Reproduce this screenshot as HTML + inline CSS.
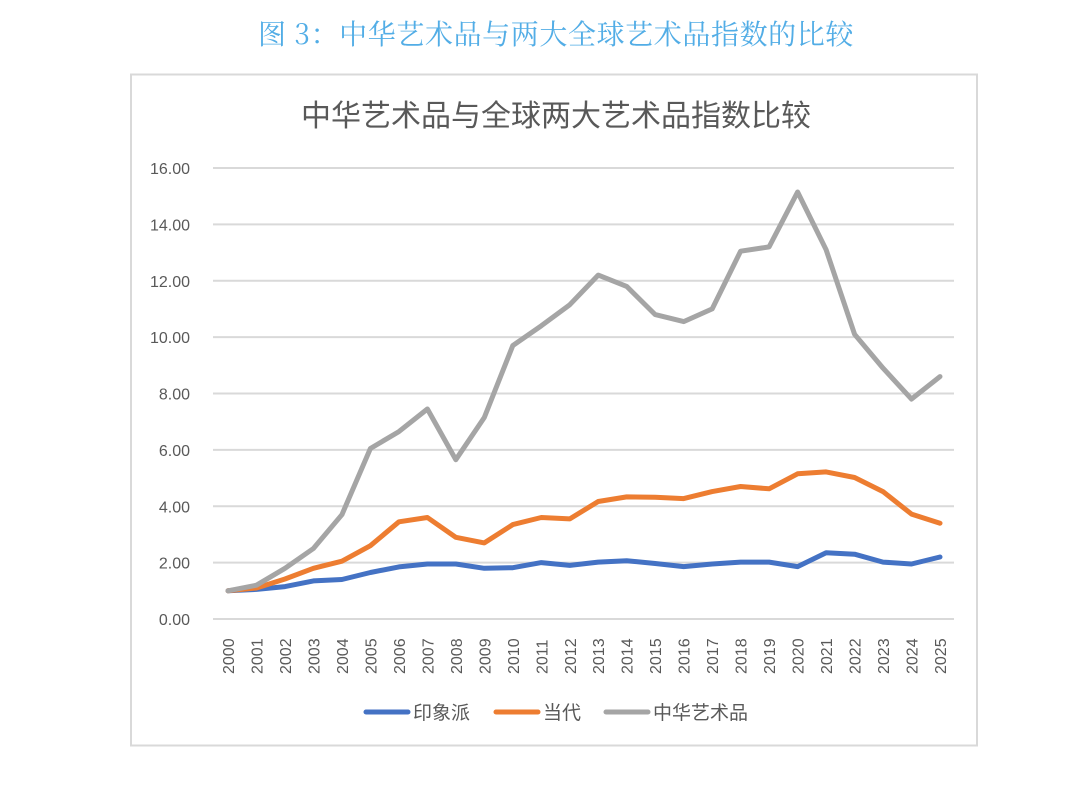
<!DOCTYPE html>
<html><head><meta charset="utf-8">
<style>
body{margin:0;background:#fff;width:1080px;height:794px;overflow:hidden}
svg{display:block}
</style></head><body>
<svg id="s" width="1080" height="794" xmlns="http://www.w3.org/2000/svg">
<text x="556" y="44" text-anchor="middle" font-family="'Noto Serif CJK SC','Liberation Serif',serif" font-size="28" letter-spacing="0.6" fill="#52ade6">图 3：中华艺术品与两大全球艺术品指数的比较</text>
<rect x="131" y="74.5" width="846" height="671" fill="#fff" stroke="#d9d9d9" stroke-width="2"/>
<text x="556" y="126" text-anchor="middle" font-family="'Liberation Sans','Noto Sans CJK SC',sans-serif" font-size="30" fill="#595959">中华艺术品与全球两大艺术品指数比较</text>
<g id="grid" stroke="#d9d9d9" stroke-width="2"></g>
<g id="yl" font-family="'Liberation Sans',sans-serif" font-size="16" fill="#595959" text-anchor="end"></g>
<g id="xl" font-family="'Liberation Sans',sans-serif" font-size="16" fill="#595959"></g>
<g id="lines" fill="none" stroke-width="5" stroke-linejoin="round" stroke-linecap="round"></g>
<g font-family="'Liberation Sans','Noto Sans CJK SC',sans-serif" font-size="19" fill="#595959">
<line x1="366" y1="712" x2="408" y2="712" stroke="#4472c4" stroke-width="5" stroke-linecap="round"/>
<text x="413" y="719">印象派</text>
<line x1="496" y1="712" x2="538" y2="712" stroke="#ed7d31" stroke-width="5" stroke-linecap="round"/>
<text x="543" y="719">当代</text>
<line x1="606" y1="712" x2="648" y2="712" stroke="#a5a5a5" stroke-width="5" stroke-linecap="round"/>
<text x="653" y="719">中华艺术品</text>
</g>
</svg>
<script>
var NS="http://www.w3.org/2000/svg";
function el(t,a,p,txt){var e=document.createElementNS(NS,t);for(var k in a)e.setAttribute(k,a[k]);if(txt)e.textContent=txt;document.getElementById(p).appendChild(e);}
var y0=619,sc=451/16,x0=228,dx=712/25;
for(var v=0;v<=16;v+=2){var y=y0-v*sc;el('line',{x1:213,x2:954,y1:y,y2:y},'grid');el('text',{x:190,y:y+6},'yl',v.toFixed(2));}
for(var i=0;i<26;i++){var x=x0+i*dx;el('text',{x:0,y:0,transform:'translate('+(x+6)+',674) rotate(-90)'},'xl',String(2000+i));}
var data=[
['#4472c4',[1.0,1.05,1.15,1.35,1.4,1.65,1.85,1.95,1.95,1.8,1.82,2.0,1.9,2.02,2.07,1.97,1.86,1.95,2.02,2.02,1.86,2.35,2.3,2.02,1.95,2.2]],
['#ed7d31',[1.0,1.1,1.42,1.8,2.05,2.6,3.45,3.6,2.9,2.7,3.35,3.6,3.55,4.17,4.33,4.32,4.27,4.52,4.7,4.62,5.15,5.22,5.02,4.52,3.72,3.4]],
['#a5a5a5',[1.0,1.2,1.8,2.5,3.7,6.05,6.65,7.45,5.65,7.15,9.7,10.4,11.15,12.2,11.8,10.8,10.55,11.0,13.05,13.2,15.15,13.1,10.1,8.9,7.8,8.6]]];
data.forEach(function(d){var p=d[1].map(function(v,i){return (x0+i*dx).toFixed(1)+','+(y0-v*sc).toFixed(1)}).join(' ');el('polyline',{points:p,stroke:d[0]},'lines');});
</script>
</body></html>
